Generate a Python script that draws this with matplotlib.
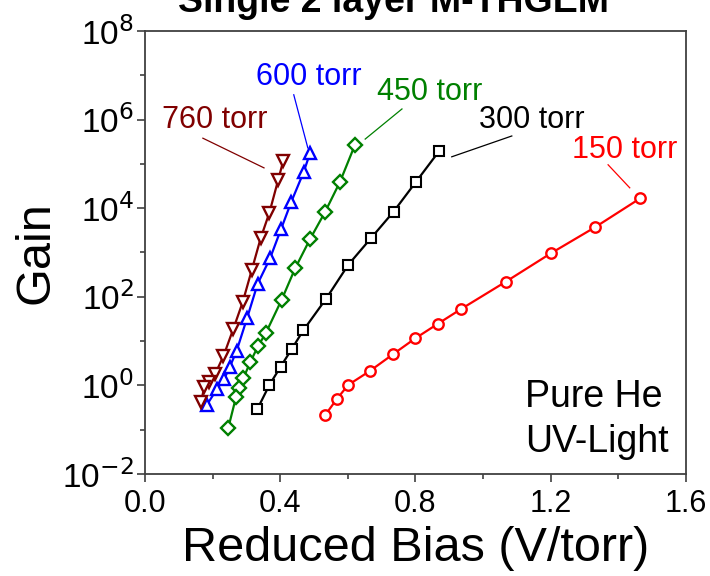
import numpy as np
import matplotlib
matplotlib.use('Agg')
import matplotlib.pyplot as plt
from matplotlib.ticker import FixedLocator, FuncFormatter, MultipleLocator

plt.rcParams['font.family'] = ['Liberation Sans', 'DejaVu Sans']
plt.rcParams['mathtext.fontset'] = 'custom'
plt.rcParams['mathtext.rm'] = 'Liberation Sans'
plt.rcParams['mathtext.it'] = 'Liberation Sans:italic'
plt.rcParams['mathtext.bf'] = 'Liberation Sans:bold'
plt.rcParams['axes.unicode_minus'] = False

# reduced bias (V/torr) and log10(gain)
bias_760 = [0.409, 0.394, 0.368, 0.342, 0.316, 0.289, 0.261, 0.232, 0.207, 0.189, 0.175, 0.166]
lg_760 = [5.07, 4.64, 3.90, 3.32, 2.61, 1.88, 1.27, 0.66, 0.25, 0.08, -0.04, -0.38]

bias_600 = [0.488, 0.469, 0.433, 0.402, 0.370, 0.333, 0.302, 0.271, 0.251, 0.234, 0.213, 0.183]
lg_600 = [5.24, 4.81, 4.15, 3.52, 2.87, 2.29, 1.52, 0.78, 0.42, 0.14, -0.08, -0.44]

bias_450 = [0.621, 0.577, 0.533, 0.488, 0.444, 0.404, 0.358, 0.334, 0.311, 0.291, 0.277, 0.269, 0.246]
lg_450 = [5.43, 4.60, 3.92, 3.30, 2.64, 1.93, 1.19, 0.88, 0.52, 0.16, -0.06, -0.27, -0.97]

bias_300 = [0.871, 0.801, 0.735, 0.668, 0.601, 0.536, 0.468, 0.434, 0.401, 0.368, 0.332]
lg_300 = [5.30, 4.59, 3.92, 3.32, 2.72, 1.96, 1.24, 0.82, 0.42, 0.01, -0.54]

bias_150 = [1.464, 1.331, 1.200, 1.067, 0.934, 0.866, 0.799, 0.733, 0.666, 0.601, 0.567, 0.533]
lg_150 = [4.22, 3.57, 2.98, 2.34, 1.72, 1.39, 1.06, 0.70, 0.33, 0.01, -0.31, -0.67]

fig = plt.figure(figsize=(7.1, 5.76), dpi=100, facecolor='w')
ax = fig.add_axes([0.2042, 0.1771, 0.7620, 0.7691])

ax.plot(bias_150, np.power(10.0, lg_150), '-o', color='#FF0000', lw=1.6,
        ms=7.5, mew=1.7, mfc='white')
ax.plot(bias_300, np.power(10.0, lg_300), '-s', color='black', lw=1.6,
        ms=7, mew=1.5, mfc='white')
ax.plot(bias_450, np.power(10.0, lg_450), '-D', color='#008000', lw=1.6,
        ms=7, mew=1.7, mfc='white')
ax.plot(bias_600, np.power(10.0, lg_600), '-^', color='#0000FF', lw=1.6,
        ms=9, mew=1.7, mfc='white')
ax.plot(bias_760, np.power(10.0, lg_760), '-v', color='#800000', lw=1.6,
        ms=9, mew=1.7, mfc='white')

ax.set_yscale('log')
ax.set_xlim(0.0, 1.6)
ax.set_ylim(1e-2, 1e8)

ax.xaxis.set_major_locator(MultipleLocator(0.4))
ax.xaxis.set_minor_locator(MultipleLocator(0.2))
ax.yaxis.set_major_locator(FixedLocator([10.0 ** k for k in range(-2, 9, 2)]))
ax.yaxis.set_minor_locator(FixedLocator([10.0 ** k for k in range(-1, 8, 2)]))
ax.yaxis.set_major_formatter(FuncFormatter(lambda v, p: r'$10^{\mathsf{%d}}$' % round(np.log10(v))))
ax.yaxis.set_minor_formatter(FuncFormatter(lambda v, p: ''))
ax.xaxis.set_major_formatter(FuncFormatter(lambda v, p: '%.1f' % v))

ax.tick_params(which='major', direction='out', length=6, width=1.2, color='#404040')
ax.tick_params(which='minor', direction='out', length=3.5, width=1.2, color='#404040')
ax.tick_params(axis='x', labelsize=22, pad=5)
ax.tick_params(axis='y', labelsize=24, pad=2)
ax.tick_params(top=False, right=False, which='both')
for s in ax.spines.values():
    s.set_linewidth(1.3)
    s.set_color('#404040')

ax.set_xlabel('Reduced Bias (V/torr)', fontsize=35, labelpad=5)
ax.set_ylabel('Gain', fontsize=35, labelpad=3)

# series labels with leader lines (axes fraction)
labels = ['760 torr', '600 torr', '450 torr', '300 torr', '150 torr']
colors = ['#800000', '#0000FF', '#008000', 'black', '#FF0000']
text_pos = [(0.129, 0.799), (0.303, 0.896), (0.527, 0.862), (0.715, 0.799), (0.887, 0.731)]
leaders = [((0.107, 0.758), (0.220, 0.691)),
           ((0.275, 0.856), (0.301, 0.736)),
           ((0.475, 0.824), (0.407, 0.756)),
           ((0.678, 0.763), (0.567, 0.716)),
           ((0.856, 0.698), (0.896, 0.646))]
for lab, c, tp, ld in zip(labels, colors, text_pos, leaders):
    ax.text(tp[0], tp[1], lab, color=c, fontsize=22, ha='center', va='center',
            transform=ax.transAxes)
    ax.plot([ld[0][0], ld[1][0]], [ld[0][1], ld[1][1]], color=c, lw=0.9,
            transform=ax.transAxes)

ax.text(0.702, 0.174, 'Pure He', fontsize=27, ha='left', va='center', transform=ax.transAxes)
ax.text(0.702, 0.073, 'UV-Light', fontsize=27, ha='left', va='center', transform=ax.transAxes)

fig.text(394 / 710, 1 - 12 / 576, 'Single 2 layer M-THGEM', fontsize=27,
         fontweight='bold', ha='center', va='baseline')

fig.savefig('out.png', dpi=100, facecolor='w')
